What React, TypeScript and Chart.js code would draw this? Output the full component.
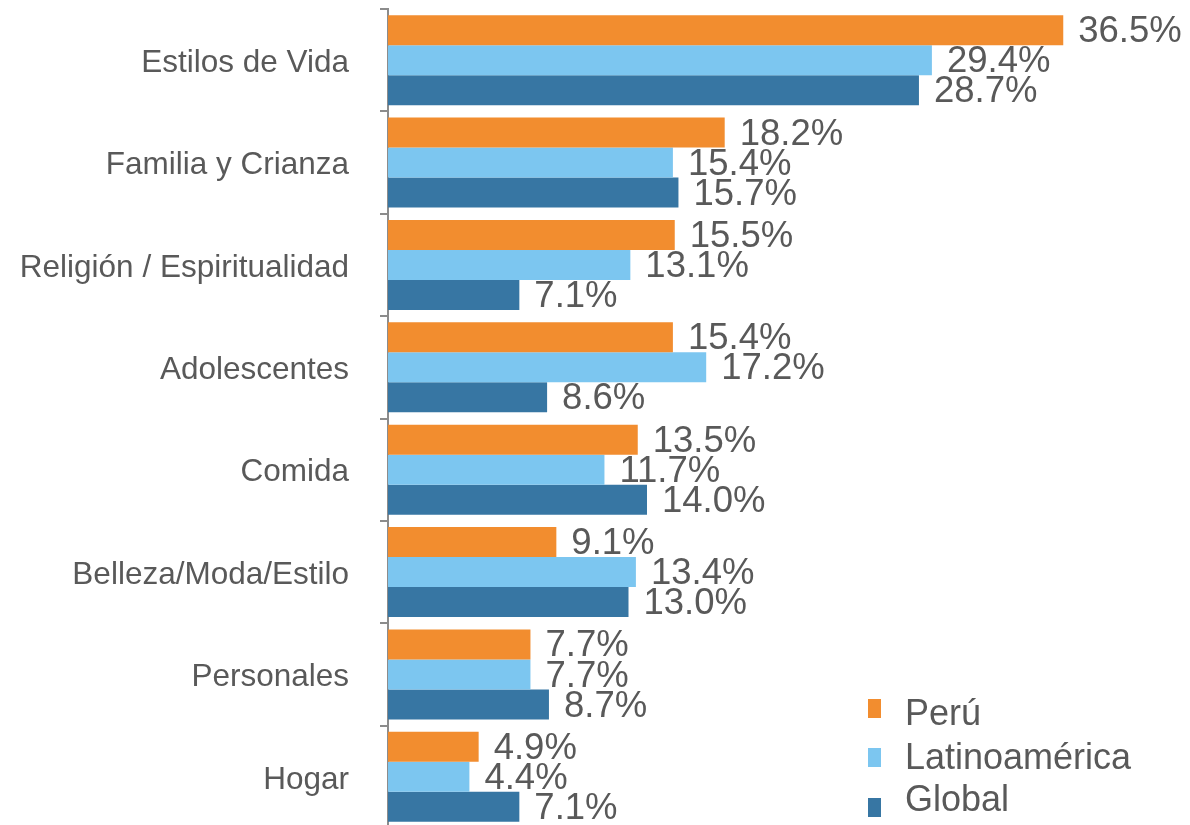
import React, { useEffect, useRef } from "react";
import { Chart, registerables } from "chart.js";

Chart.register(...registerables);

const categories = [
  "Estilos de Vida",
  "Familia y Crianza",
  "Religión / Espiritualidad",
  "Adolescentes",
  "Comida",
  "Belleza/Moda/Estilo",
  "Personales",
  "Hogar",
];
const seriesNames = ["Perú", "Latinoamérica", "Global"];
const peru = [36.5, 18.2, 15.5, 15.4, 13.5, 9.1, 7.7, 4.9];
const latam = [29.4, 15.4, 13.1, 17.2, 11.7, 13.4, 7.7, 4.4];
const global = [28.7, 15.7, 7.1, 8.6, 14.0, 13.0, 8.7, 7.1];
const colors = ["#F28D2F", "#7CC6F0", "#3776A3"];

const FONT = "'Liberation Sans', Arial, sans-serif";
const TEXT = "#595959";

const valueLabels = {
  id: "valueLabels",
  afterDatasetsDraw(chart: any) {
    const ctx = chart.ctx;
    ctx.save();
    ctx.font = `36.5px ${FONT}`;
    ctx.fillStyle = TEXT;
    ctx.textAlign = "left";
    ctx.textBaseline = "middle";
    chart.data.datasets.forEach((ds: any, di: number) => {
      const meta = chart.getDatasetMeta(di);
      meta.data.forEach((bar: any, i: number) => {
        ctx.fillText(ds.data[i].toFixed(1) + "%", bar.x + 15, bar.y + 2);
      });
    });
    ctx.restore();
  },
};

const customLegend = {
  id: "customLegend",
  afterDraw(chart: any) {
    const ctx = chart.ctx;
    ctx.save();
    ctx.font = `36px ${FONT}`;
    ctx.textAlign = "left";
    ctx.textBaseline = "alphabetic";
    const markerTops = [699, 748, 798];
    const baselines = [725, 769, 811];
    chart.data.datasets.forEach((ds: any, i: number) => {
      ctx.fillStyle = ds.backgroundColor;
      ctx.fillRect(868, markerTops[i], 13, 19);
      ctx.fillStyle = TEXT;
      ctx.fillText(ds.label, 905, baselines[i]);
    });
    ctx.restore();
  },
};

export default function App() {
  const ref = useRef<HTMLCanvasElement>(null);
  useEffect(() => {
    if (!ref.current) return;
    const chart = new Chart(ref.current, {
      type: "bar",
      data: {
        labels: categories,
        datasets: [peru, latam, global].map((d, i) => ({
          label: seriesNames[i],
          data: d,
          backgroundColor: colors[i],
          borderWidth: 0,
          categoryPercentage: 0.88,
          barPercentage: 1.0,
        })),
      },
      options: {
        indexAxis: "y",
        animation: false,
        responsive: false,
        layout: { padding: { top: 9, right: 25, bottom: 0, left: 0 } },
        plugins: {
          legend: { display: false },
          tooltip: { enabled: false },
        },
        scales: {
          x: { display: false, min: 0, max: 42 },
          y: {
            afterFit: (scale: any) => {
              scale.width = 388;
              scale.paddingTop = 0;
              scale.paddingBottom = 0;
            },
            grid: {
              drawOnChartArea: false,
              drawTicks: true,
              tickLength: 8,
              color: "#8C8C8C",
              lineWidth: 2,
              offset: true,
            },
            border: { display: true, color: "#8C8C8C", width: 2 },
            ticks: {
              padding: 31,
              labelOffset: 3,
              color: TEXT,
              font: { family: FONT, size: 31.5 },
            },
          },
        },
      } as any,
      plugins: [valueLabels, customLegend],
    });
    return () => chart.destroy();
  }, []);
  return (
    <div style={{ position: "fixed", left: 0, top: 0, width: 1190, height: 828 }}>
      <canvas ref={ref} width={1190} height={828} style={{ width: 1190, height: 828 }} />
    </div>
  );
}
